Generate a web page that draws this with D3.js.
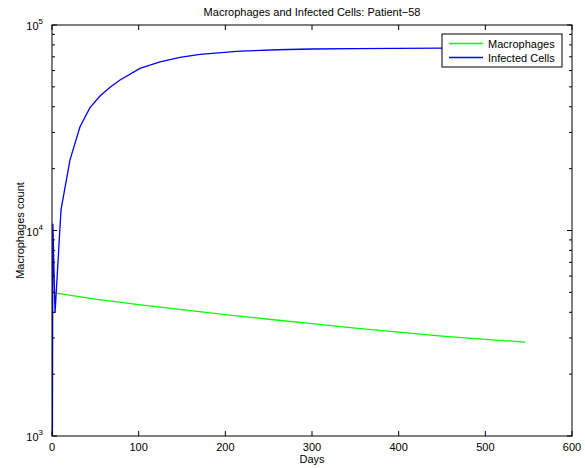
<!DOCTYPE html>
<html>
<head>
<meta charset="utf-8">
<script src="https://cdn.jsdelivr.net/npm/d3@7"></script>
<style>
  body { margin: 0; background: #fff; }
  svg { display: block; font-family: "Liberation Sans", Arial, sans-serif; }
</style>
</head>
<body>
<svg id="drawing_region"></svg>
<script>
// values (day, count)
const macroDays   = [1, 50, 100, 150, 200, 250, 300, 350, 400, 450, 500, 546]
const macroValues = [4980, 4640, 4360, 4120, 3900, 3700, 3520, 3350, 3200, 3060, 2950, 2865]

const infDays   = [0, 1, 3.5, 10.4, 20.7, 32.3, 43.8, 55.4, 67, 78.5, 101.5, 124.6, 147.7, 170.8, 217, 260, 300, 350, 400, 450, 500, 546]
const infValues = [100, 10780, 3970, 12600, 22000, 32000, 39600, 45100, 49800, 54000, 61500, 66200, 69600, 71900, 74600, 75800, 76400, 76800, 77000, 77100, 77200, 77200]

const xTicks = [0, 100, 200, 300, 400, 500, 600]
const yMajor = [1e3, 1e4, 1e5]
const seriesNames = ['Macrophages', 'Infected Cells']
const seriesColors = ['#00ff00', '#0000ff']

class LogLinePlot {
  constructor(config) {
    this.config = config
    this.init()
  }

  init() {
    let self = this
    const m = self.config.margin
    self.svg = d3.select(self.config.parent)
      .attr('width', self.config.width)
      .attr('height', self.config.height)
    self.inner_width = self.config.width - m.left - m.right
    self.inner_height = self.config.height - m.top - m.bottom
    self.chart = self.svg.append('g').attr('transform', `translate(${m.left},${m.top})`)

    self.xscale = d3.scaleLinear().domain([0, 600]).range([0, self.inner_width])
    self.yscale = d3.scaleLog().domain([1e3, 1e5]).range([self.inner_height, 0])

    self.chart.append('clipPath').attr('id', 'clip')
      .append('rect').attr('width', self.inner_width).attr('height', self.inner_height)
  }

  render() {
    let self = this
    const w = self.inner_width, h = self.inner_height
    const minor = []
    yMajor.slice(0, -1).forEach(p => { for (let k = 2; k < 10; k++) minor.push(p * k) })

    // series
    const line = d3.line().x(d => self.xscale(d[0])).y(d => self.yscale(d[1]))
    const series = [d3.zip(macroDays, macroValues), d3.zip(infDays, infValues)]
    self.chart.append('g').attr('clip-path', 'url(#clip)')
      .selectAll('path').data(series).enter().append('path')
      .attr('d', line)
      .attr('fill', 'none')
      .attr('stroke', (d, i) => seriesColors[i])
      .attr('stroke-width', 1.3)

    // box
    self.chart.append('rect').attr('width', w).attr('height', h)
      .attr('fill', 'none').attr('stroke', '#000').attr('stroke-width', 1)

    const tk = self.chart.append('g').attr('stroke', '#000').attr('stroke-width', 1)
    xTicks.forEach(t => {
      const x = self.xscale(t)
      tk.append('line').attr('x1', x).attr('x2', x).attr('y1', h).attr('y2', h - 5)
      tk.append('line').attr('x1', x).attr('x2', x).attr('y1', 0).attr('y2', 5)
    })
    yMajor.forEach(t => {
      const y = self.yscale(t)
      tk.append('line').attr('x1', 0).attr('x2', 5).attr('y1', y).attr('y2', y)
      tk.append('line').attr('x1', w).attr('x2', w - 5).attr('y1', y).attr('y2', y)
    })
    minor.forEach(t => {
      const y = self.yscale(t)
      tk.append('line').attr('x1', 0).attr('x2', 3).attr('y1', y).attr('y2', y)
      tk.append('line').attr('x1', w).attr('x2', w - 3).attr('y1', y).attr('y2', y)
    })

    // tick labels
    self.chart.append('g').selectAll('text').data(xTicks).enter().append('text')
      .attr('x', d => self.xscale(d)).attr('y', h + 15)
      .attr('text-anchor', 'middle').attr('font-size', 11)
      .text(d => d)

    const yl = self.chart.append('g').selectAll('text').data(yMajor).enter().append('text')
      .attr('x', -9).attr('y', d => self.yscale(d) + 5)
      .attr('text-anchor', 'end').attr('font-size', 11)
    yl.append('tspan').text('10')
    yl.append('tspan').attr('dy', -6).attr('font-size', 8).text(d => Math.round(Math.log10(d)))

    // titles
    self.svg.append('text').attr('x', self.config.margin.left + w / 2).attr('y', 16)
      .attr('text-anchor', 'middle').attr('font-size', 11)
      .text('Macrophages and Infected Cells: Patient\u221258')
    self.svg.append('text').attr('x', self.config.margin.left + w / 2).attr('y', 463)
      .attr('text-anchor', 'middle').attr('font-size', 11)
      .text('Days')
    self.svg.append('text')
      .attr('transform', `translate(24,${self.config.margin.top + h / 2}) rotate(-90)`)
      .attr('text-anchor', 'middle').attr('font-size', 11)
      .text('Macrophages count')

    // legend
    const lg = self.svg.append('g').attr('transform', 'translate(442,34)')
    lg.append('rect').attr('width', 120).attr('height', 33)
      .attr('fill', '#fff').attr('stroke', '#000').attr('stroke-width', 1)
    seriesNames.forEach((n, i) => {
      const y = 9.5 + i * 14
      lg.append('line').attr('x1', 7).attr('x2', 41).attr('y1', y).attr('y2', y)
        .attr('stroke', seriesColors[i]).attr('stroke-width', 1.3)
      lg.append('text').attr('x', 46).attr('y', y + 4).attr('font-size', 11).text(n)
    })
  }
}

const config = {
  parent: '#drawing_region',
  width: 585,
  height: 468,
  margin: { top: 25, right: 13, bottom: 32, left: 52 }
}
const plot = new LogLinePlot(config)
plot.render()
</script>
</body>
</html>
